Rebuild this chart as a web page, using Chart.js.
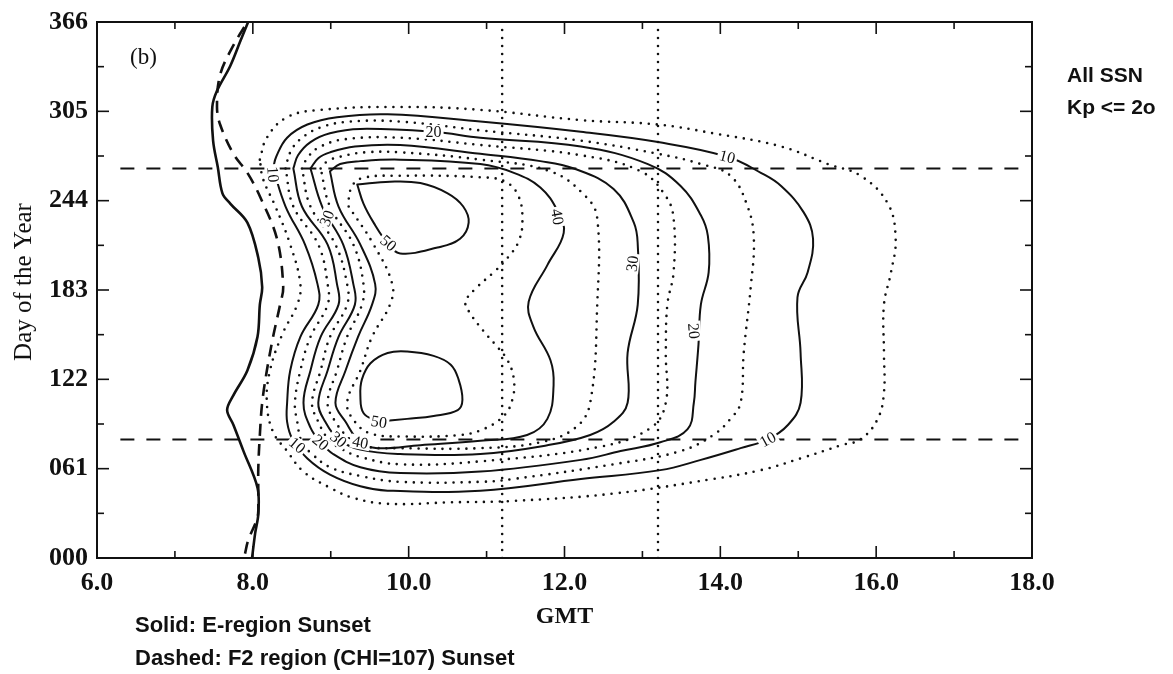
<!DOCTYPE html>
<html>
<head>
<meta charset="utf-8">
<script src="https://cdn.jsdelivr.net/npm/chart.js@4.4.1/dist/chart.umd.min.js"></script>
<style>
  html, body { margin: 0; padding: 0; background: #fff; }
  #wrap { width: 1173px; height: 674px; }
</style>
</head>
<body>
<div id="wrap"><canvas id="grafico" width="1173" height="674"></canvas></div>
<script>
// eixos
const gmtTicks = [6, 8, 10, 12, 14, 16, 18];
const dayTicks = [0, 61, 122, 183, 244, 305, 366];

// linhas de referencia: equinocios (tracejado) e horas marcadas (pontilhado)
const equinoxDays = [81, 266];
const markerGmt = [11.2, 13.2];

// por-do-sol, pares [GMT, dia]
const eSunset = [[7.99,0],[8.03,17],[8.07,30],[8.06,48],[7.88,73],[7.75,91],[7.67,101],[7.75,111],[7.93,128],[8.06,151],[8.09,173],[8.12,185],[8.07,205],[7.93,229],[7.71,242],[7.61,249],[7.55,267],[7.49,285],[7.48,308],[7.54,319],[7.71,336],[7.84,353],[7.94,366]];
const f2Sunset = [[7.90,3],[7.94,12],[8.06,28],[8.07,39],[8.07,61],[8.09,84],[8.12,106],[8.18,128],[8.26,151],[8.35,173],[8.39,185],[8.31,218],[8.09,247],[7.93,263],[7.75,276],[7.58,296],[7.54,308],[7.58,330],[7.75,350],[7.93,366]];

// contornos, pares [GMT, dia]
const contour05 = [[8.09,272],[8.18,287],[8.44,301],[8.87,306],[9.89,308],[10.92,306],[12.21,299],[13.20,296],[13.91,290],[14.78,281],[15.38,269],[15.80,261],[16.15,242],[16.25,218],[16.19,195],[16.10,173],[16.10,140],[16.10,113],[16.02,95],[15.80,81],[15.55,77],[15.03,68],[14.52,60],[13.91,54],[12.63,44],[11.35,39],[10.54,38],[9.73,37],[9.29,41],[8.99,48],[8.65,59],[8.44,73],[8.26,86],[8.18,106],[8.22,128],[8.38,153],[8.57,173],[8.61,187],[8.48,214],[8.29,240],[8.13,259]];
const contour10 = [[8.26,266],[8.30,274],[8.44,287],[8.70,296],[9.08,301],[9.73,303],[10.92,298],[12.21,291],[13.20,284],[14.09,274],[14.52,263],[14.78,254],[15.07,236],[15.19,218],[15.12,195],[14.99,178],[15.03,140],[15.03,106],[14.87,91],[14.61,81],[14.26,75],[13.75,67],[13.23,60],[12.21,54],[10.92,46],[9.73,46],[9.38,49],[8.99,57],[8.70,68],[8.51,81],[8.44,93],[8.44,106],[8.48,128],[8.61,151],[8.84,173],[8.83,187],[8.67,214],[8.42,240]];
const contour15 = [[8.42,266],[8.48,277],[8.61,286],[8.87,294],[9.25,298],[9.89,298],[10.92,292],[12.21,285],[13.20,276],[13.75,269],[14.13,261],[14.35,240],[14.43,218],[14.39,185],[14.30,140],[14.26,106],[14.13,95],[13.91,84],[13.49,73],[12.63,64],[11.35,54],[10.92,52],[9.89,52],[9.38,56],[8.99,62],[8.76,71],[8.63,79],[8.57,93],[8.54,106],[8.61,128],[8.74,151],[8.96,173],[8.96,187],[8.84,214],[8.52,240]];
const contour20 = [[8.52,266],[8.58,275],[8.74,284],[8.99,290],[9.38,293],[10.32,291],[10.92,287],[12.21,281],[13.07,269],[13.49,254],[13.75,234],[13.84,220],[13.85,195],[13.75,173],[13.72,146],[13.68,120],[13.66,106],[13.58,88],[13.23,79],[12.72,73],[12.21,67],[10.92,59],[9.89,58],[9.38,62],[9.03,71],[8.87,79],[8.74,89],[8.65,106],[8.74,128],[8.87,151],[9.10,173],[9.08,187],[8.96,214],[8.63,240]];
const contour25 = [[8.63,266],[8.71,274],[8.87,281],[9.19,286],[9.89,287],[10.92,282],[12.21,275],[12.98,264],[13.30,247],[13.40,232],[13.40,195],[13.32,173],[13.30,140],[13.30,106],[13.11,89],[12.46,76],[10.92,66],[9.89,64],[9.38,69],[9.12,75],[8.97,81],[8.84,93],[8.76,106],[8.87,128],[8.99,151],[9.21,173],[9.21,187],[9.06,214],[8.74,240]];
const contour30 = [[8.74,266],[8.84,273],[8.99,277],[9.31,281],[9.89,282],[10.92,276],[11.69,271],[12.12,266],[12.63,252],[12.89,229],[12.94,214],[12.94,173],[12.81,140],[12.81,106],[12.63,93],[12.33,84],[11.78,77],[10.92,71],[9.89,71],[9.38,74],[9.10,81],[8.93,93],[8.84,106],[8.96,128],[9.10,151],[9.31,173],[9.29,187],[9.16,214],[8.89,240]];
const contour35 = [[8.87,266],[8.96,271],[9.12,274],[9.44,277],[9.89,277],[10.92,272],[11.82,264],[12.27,247],[12.42,232],[12.42,173],[12.33,106],[12.14,89],[11.69,79],[10.92,75],[9.89,75],[9.44,76],[9.25,81],[9.06,93],[8.96,106],[9.08,128],[9.21,151],[9.40,173],[9.42,187],[9.29,214],[8.99,240]];
const contour40 = [[8.99,264],[9.12,269],[9.38,271],[9.89,272],[10.92,269],[11.35,263],[11.69,253],[11.91,237],[11.99,222],[11.78,200],[11.54,175],[11.60,158],[11.82,135],[11.86,118],[11.78,95],[11.52,84],[10.92,80],[10.15,77],[9.60,75],[9.38,79],[9.19,93],[9.06,106],[9.19,128],[9.35,151],[9.53,173],[9.57,187],[9.38,214],[9.10,240]];
const contour45 = [[9.23,240],[9.25,251],[9.38,259],[9.89,261],[10.92,260],[11.24,257],[11.41,247],[11.46,230],[11.41,216],[11.27,205],[11.09,195],[10.88,185],[10.73,175],[10.79,167],[10.96,155],[11.14,144],[11.27,135],[11.35,122],[11.33,108],[11.22,97],[10.96,88],[10.66,84],[9.89,83],[9.51,85],[9.31,93],[9.21,106],[9.38,128],[9.53,151],[9.76,173],[9.79,187],[9.55,214]];
const contour50a = [[9.34,255],[9.76,257],[10.15,256],[10.50,249],[10.70,240],[10.77,229],[10.66,218],[10.37,212],[9.89,208],[9.73,215],[9.55,229],[9.42,242]];
const contour50b = [[9.60,93],[9.42,99],[9.38,111],[9.40,122],[9.51,133],[9.73,140],[9.98,141],[10.32,138],[10.54,132],[10.64,122],[10.69,108],[10.63,101],[10.32,97],[9.98,95]];

const contourLevels = [5, 10, 15, 20, 25, 30, 35, 40, 45, 50, 50];
const contours = [contour05, contour10, contour15, contour20, contour25, contour30, contour35, contour40, contour45, contour50a, contour50b];

// rotulos dos contornos: texto, GMT, dia, angulo
const rotulos = [
  ['20', 10.32, 291, 0],
  ['10', 14.09, 274, 0.25],
  ['10', 14.61, 81, -0.5],
  ['50', 9.74, 215, 0.7],
  ['50', 9.62, 93, 0.15],
  ['40', 11.91, 233, 1.4],
  ['30', 12.87, 201, -1.45],
  ['20', 13.66, 155, 1.5],
  ['10', 8.57, 77, 0.7],
  ['20', 8.87, 79, 0.7],
  ['30', 9.10, 81, 0.7],
  ['40', 9.38, 79, 0.2],
  ['10', 8.26, 262, 1.5],
  ['30', 8.95, 232, -1.2]
];

function pares(arr, fechar) {
  const pts = arr.map(p => ({ x: p[0], y: p[1] }));
  if (fechar) pts.push({ x: arr[0][0], y: arr[0][1] });
  return pts;
}

const datasets = [];

contours.forEach((c, i) => {
  const pontilhado = contourLevels[i] % 10 !== 0;
  datasets.push({
    data: pares(c, true),
    showLine: true,
    borderColor: '#111',
    borderWidth: pontilhado ? 2.6 : 2,
    borderDash: pontilhado ? [0, 8] : [],
    borderCapStyle: 'round',
    tension: 0.4,
    pointRadius: 0
  });
});

equinoxDays.forEach(d => {
  datasets.push({
    data: [{ x: 6.3, y: d }, { x: 17.85, y: d }],
    showLine: true, borderColor: '#111', borderWidth: 2,
    borderDash: [14, 12], pointRadius: 0
  });
});

markerGmt.forEach(g => {
  datasets.push({
    data: [{ x: g, y: 0 }, { x: g, y: 366 }],
    showLine: true, borderColor: '#111', borderWidth: 2.6,
    borderDash: [0, 8], borderCapStyle: 'round', pointRadius: 0
  });
});

datasets.push({
  data: pares(eSunset, false),
  showLine: true, borderColor: '#111', borderWidth: 2.6,
  tension: 0.35, pointRadius: 0
});
datasets.push({
  data: pares(f2Sunset, false),
  showLine: true, borderColor: '#111', borderWidth: 2.6,
  borderDash: [12, 8], tension: 0.35, pointRadius: 0
});

function traco(ctx, x1, y1, x2, y2) {
  ctx.beginPath();
  ctx.moveTo(x1, y1);
  ctx.lineTo(x2, y2);
  ctx.stroke();
}

function meios(arr) {
  const out = [];
  for (let i = 0; i < arr.length - 1; i++) out.push((arr[i] + arr[i + 1]) / 2);
  return out;
}

const moldura = {
  id: 'moldura',
  afterDatasetsDraw(chart) {
    const { ctx, chartArea: a, scales } = chart;
    const sx = scales.x, sy = scales.y;
    ctx.save();

    // rotulos dos contornos
    ctx.font = '16px "Liberation Serif"';
    ctx.textAlign = 'center';
    ctx.textBaseline = 'middle';
    rotulos.forEach(([txt, g, d, ang]) => {
      const px = sx.getPixelForValue(g), py = sy.getPixelForValue(d);
      ctx.save();
      ctx.translate(px, py);
      ctx.rotate(ang);
      const w = ctx.measureText(txt).width;
      ctx.fillStyle = '#fff';
      ctx.fillRect(-w / 2 - 2, -7, w + 4, 14);
      ctx.fillStyle = '#111';
      ctx.fillText(txt, 0, 1);
      ctx.restore();
    });

    // moldura
    ctx.strokeStyle = '#111';
    ctx.lineWidth = 2;
    ctx.strokeRect(a.left, a.top, a.right - a.left, a.bottom - a.top);

    // marcas para dentro
    ctx.lineWidth = 1.6;
    gmtTicks.forEach(v => {
      const px = sx.getPixelForValue(v);
      traco(ctx, px, a.bottom, px, a.bottom - 12);
      traco(ctx, px, a.top, px, a.top + 12);
    });
    meios(gmtTicks).forEach(v => {
      const px = sx.getPixelForValue(v);
      traco(ctx, px, a.bottom, px, a.bottom - 7);
      traco(ctx, px, a.top, px, a.top + 7);
    });
    dayTicks.forEach(v => {
      const py = sy.getPixelForValue(v);
      traco(ctx, a.left, py, a.left + 12, py);
      traco(ctx, a.right, py, a.right - 12, py);
    });
    meios(dayTicks).forEach(v => {
      const py = sy.getPixelForValue(v);
      traco(ctx, a.left, py, a.left + 7, py);
      traco(ctx, a.right, py, a.right - 7, py);
    });

    // textos
    ctx.fillStyle = '#111';
    ctx.textBaseline = 'alphabetic';
    ctx.textAlign = 'left';
    ctx.font = '23px "Liberation Serif"';
    ctx.fillText('(b)', a.left + 33, a.top + 42);

    ctx.font = 'bold 21px "Liberation Sans"';
    ctx.fillText('All SSN', a.right + 35, 82);
    ctx.fillText('Kp <= 2o', a.right + 35, 114);

    ctx.font = 'bold 22px "Liberation Sans"';
    ctx.fillText('Solid: E-region Sunset', 135, 632);
    ctx.fillText('Dashed: F2 region (CHI=107) Sunset', 135, 665);

    ctx.textAlign = 'center';
    ctx.font = 'bold 24px "Liberation Serif"';
    ctx.fillText('GMT', (a.left + a.right) / 2, 623);

    ctx.save();
    ctx.translate(31, 282);
    ctx.rotate(-Math.PI / 2);
    ctx.font = '25px "Liberation Serif"';
    ctx.fillText('Day of the Year', 0, 0);
    ctx.restore();

    ctx.restore();
  }
};

const tickFont = { family: 'Liberation Serif', size: 26, weight: 'bold', lineHeight: 1 };

const config = {
  type: 'scatter',
  data: { datasets: datasets },
  options: {
    responsive: false,
    animation: false,
    devicePixelRatio: 1,
    layout: { padding: { top: 12, right: 141, left: 0, bottom: 0 } },
    plugins: {
      legend: { display: false },
      tooltip: { enabled: false }
    },
    scales: {
      x: {
        type: 'linear', min: 6, max: 18,
        grid: { display: false, drawTicks: false },
        border: { display: false },
        afterBuildTicks: s => { s.ticks = gmtTicks.map(v => ({ value: v })); },
        ticks: {
          callback: v => Number(v).toFixed(1),
          font: tickFont, color: '#111', padding: 12,
          maxRotation: 0, autoSkip: false
        },
        afterFit: s => { s.height = 116; }
      },
      y: {
        type: 'linear', min: 0, max: 366,
        grid: { display: false, drawTicks: false },
        border: { display: false },
        afterBuildTicks: s => { s.ticks = dayTicks.map(v => ({ value: v })); },
        ticks: {
          callback: v => String(v).padStart(3, '0'),
          font: tickFont, color: '#111', padding: 9, autoSkip: false
        },
        afterFit: s => { s.width = 97; }
      }
    }
  },
  plugins: [moldura]
};

const ctx = document.getElementById('grafico').getContext('2d');
const myChart = new Chart(ctx, config);
</script>
</body>
</html>
